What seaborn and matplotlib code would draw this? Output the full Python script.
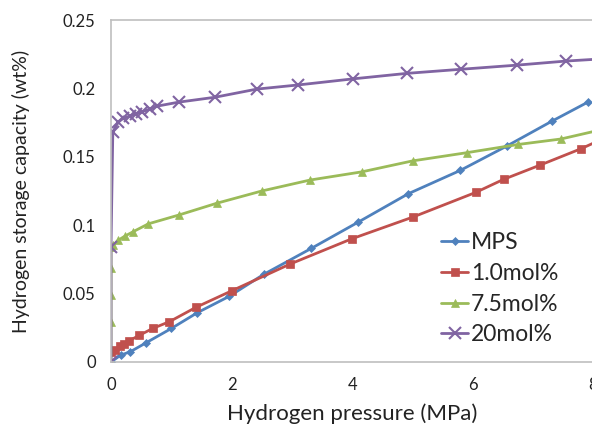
import numpy as np
import pandas as pd
import matplotlib
matplotlib.use("Agg")
import matplotlib.pyplot as plt
import matplotlib.ticker as mticker
import seaborn as sns

# values
mps_x = [0, 0.16, 0.32, 0.58, 1.0, 1.43, 1.96, 2.53, 3.32, 4.09, 4.93, 5.79, 6.57, 7.31, 7.91]
mps_y = [0, 0.005, 0.0075, 0.014, 0.0245, 0.036, 0.048, 0.064, 0.083, 0.102, 0.123, 0.140, 0.158, 0.176, 0.190]

mol1_x = [0, 0.07, 0.15, 0.22, 0.3, 0.47, 0.69, 0.97, 1.41, 2.0, 2.97, 3.99, 5.01, 6.05, 6.51, 7.12, 7.80, 8.3]
mol1_y = [0.0075, 0.009, 0.0115, 0.0135, 0.0155, 0.0195, 0.0245, 0.0295, 0.040, 0.052, 0.0716, 0.090, 0.106, 0.124, 0.1335, 0.144, 0.156, 0.166]

mol75_x = [0, 0, 0, 0, 0, 0.04, 0.12, 0.23, 0.37, 0.62, 1.13, 1.75, 2.5, 3.3, 4.16, 5.0, 5.9, 6.75, 7.46, 8.3]
mol75_y = [0, 0.0295, 0.049, 0.069, 0.084, 0.0855, 0.089, 0.092, 0.0953, 0.101, 0.1075, 0.116, 0.125, 0.133, 0.139, 0.147, 0.153, 0.159, 0.163, 0.1715]

mol20_x = [0, 0, 0.03, 0.12, 0.2, 0.32, 0.41, 0.52, 0.65, 0.76, 1.13, 1.72, 2.42, 3.1, 4.02, 4.91, 5.81, 6.73, 7.55, 8.3]
mol20_y = [0, 0.084, 0.168, 0.1755, 0.178, 0.18, 0.1815, 0.183, 0.185, 0.187, 0.19, 0.1935, 0.1995, 0.2025, 0.207, 0.211, 0.214, 0.217, 0.220, 0.222]

labels = ['MPS', '1.0mol%', '7.5mol%', '20mol%']
colors = ['#4F81BD', '#C0504D', '#9BBB59', '#8064A2']
markers = ['D', 's', '^', 'x']
msizes = [4, 6, 6, 8]

sns.set_style("white")
plt.rcParams['font.family'] = ['Lato', 'DejaVu Sans']

fig = plt.figure(figsize=(5.92, 4.30), dpi=100)
ax = fig.add_axes([111/592, 68/430, 482.4/592, 342/430])

series = [(mps_x, mps_y), (mol1_x, mol1_y), (mol75_x, mol75_y), (mol20_x, mol20_y)]
for (xs, ys), lab, c, m, ms in zip(series, labels, colors, markers, msizes):
    sns.lineplot(x=xs, y=ys, ax=ax, color=c, marker=m, markersize=ms,
                 markeredgecolor=c, markeredgewidth=1.5 if m == 'x' else 0.5,
                 linewidth=2, estimator=None, sort=False, label=lab)

ax.set_xlim(0, 8)
ax.set_ylim(0, 0.25)
ax.set_xticks([0, 2, 4, 6, 8])
ax.set_yticks([0, 0.05, 0.1, 0.15, 0.2, 0.25])
ax.yaxis.set_major_formatter(mticker.FuncFormatter(lambda v, p: '%g' % round(v, 2)))

for s in ['left', 'bottom', 'top']:
    ax.spines[s].set_color('#bfbfbf')
    ax.spines[s].set_linewidth(1.2)
ax.spines['right'].set_visible(False)
ax.tick_params(axis='both', direction='out', length=5, color='#bfbfbf',
               labelsize=12, labelcolor='#222222', pad=6)
ax.tick_params(axis='x', pad=6)

ax.set_xlabel('Hydrogen pressure (MPa)', fontsize=16, color='#222222', labelpad=7)
ax.set_ylabel('Hydrogen storage capacity (wt%)', fontsize=14, color='#222222')
ax.yaxis.set_label_coords(-0.167, 0.5)

ax.legend(loc='upper left', bbox_to_anchor=(430/592, 1 - 221/430),
          bbox_transform=fig.transFigure, frameon=False, fontsize=16.5,
          handlelength=1.15, handletextpad=0.15, labelspacing=0.42, borderpad=0)

fig.savefig('out.png', dpi=100)
